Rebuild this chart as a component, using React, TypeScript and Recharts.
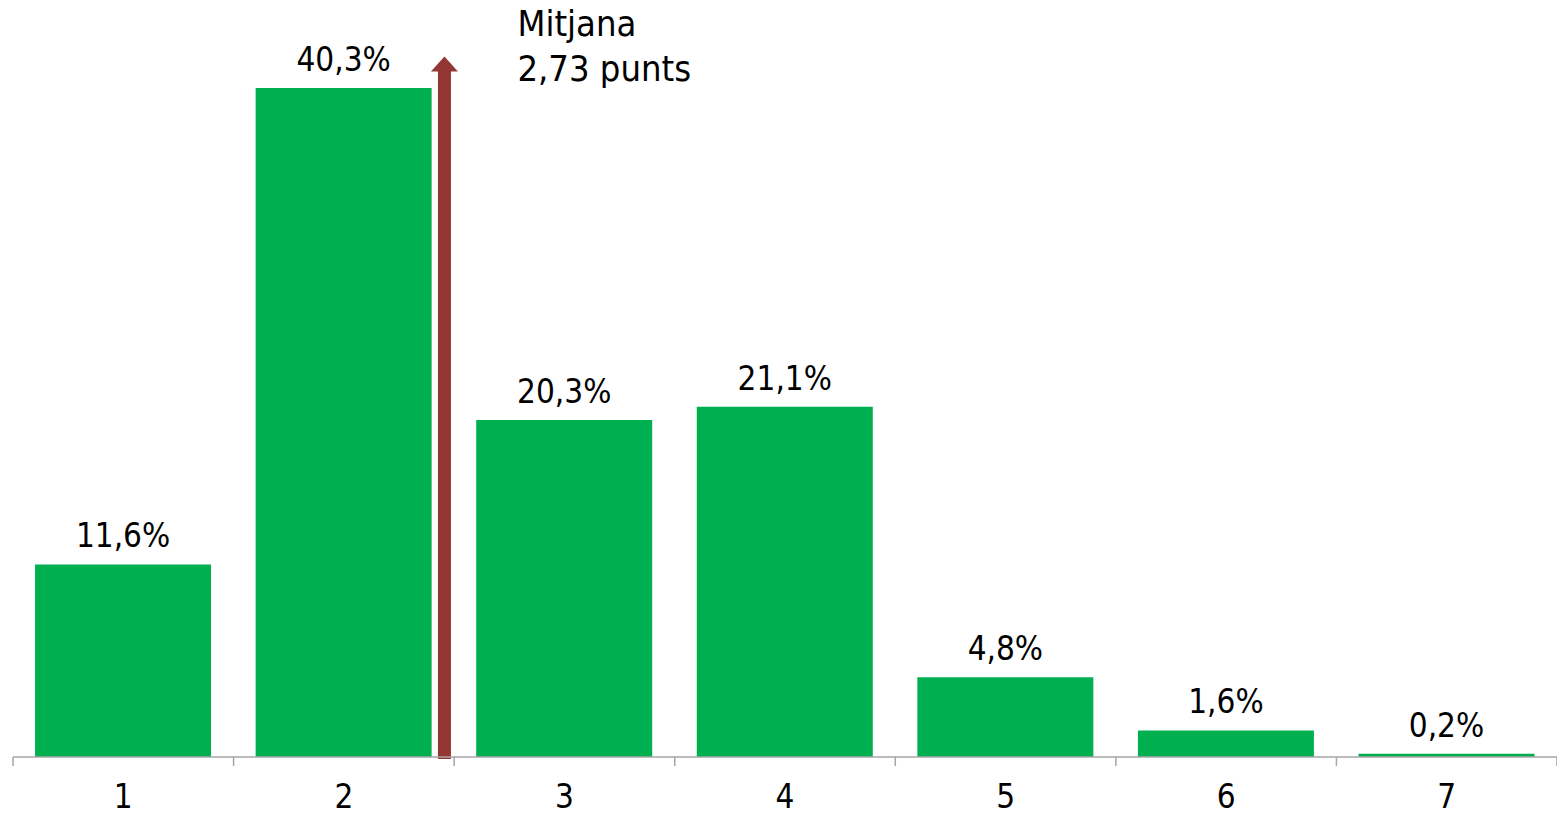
import React from 'react';
import { BarChart, Bar, XAxis, YAxis, LabelList, ReferenceLine } from 'recharts';

const categories = [1, 2, 3, 4, 5, 6, 7];
const percentages = [11.6, 40.3, 20.3, 21.1, 4.8, 1.6, 0.2];
const boundaryTicks = [0.5, 1.5, 2.5, 3.5, 4.5, 5.5, 6.5, 7.5];
const meanLabel = ['Mitjana', '2,73 punts'];
const arrowPosition = [2.456];
const arrowTop = [42.2];

const data = categories.map((c, i) => ({ cat: c, value: percentages[i] }));

const W = 1557;
const H = 815;
const MARGIN = { top: 10, right: 0, bottom: 0, left: 13 };
const HALF_BAND = (W - MARGIN.left - MARGIN.right) / categories.length / 2;
const FONT = '"DejaVu Sans Condensed", "DejaVu Sans", sans-serif';

const fmt = (v: number) => v.toFixed(1).replace('.', ',') + '%';

const BoundaryTick = (props: any) => {
  const { x, y, payload } = props;
  const v = payload.value;
  if (v >= 7.5) return null;
  const label = categories[Math.round(v + 0.5) - 1];
  return (
    <text x={x + HALF_BAND} y={y} dy={40} textAnchor="middle" fontFamily={FONT} fontSize={33} fill="#000">
      {label}
    </text>
  );
};

const Arrow = (props: any) => {
  const { x1, y1, x2, y2 } = props;
  const x = x1;
  const yBottom = Math.max(y1, y2) + 2;
  const yTop = Math.min(y1, y2);
  const shaftHalf = 6.5;
  const headHalf = 13.5;
  const headH = 15;
  const d = `M${x - shaftHalf},${yBottom} L${x - shaftHalf},${yTop + headH} L${x - headHalf},${yTop + headH} L${x},${yTop} L${x + headHalf},${yTop + headH} L${x + shaftHalf},${yTop + headH} L${x + shaftHalf},${yBottom} Z`;
  return (
    <g>
      <path d={d} fill="#943634" />
      <text x={x + 73} y={yTop - 20} fontFamily={FONT} fontSize={36} fill="#000">
        {meanLabel[0]}
      </text>
      <text x={x + 73} y={yTop + 25} fontFamily={FONT} fontSize={36} fill="#000">
        {meanLabel[1]}
      </text>
    </g>
  );
};

export default function App() {
  return (
    <div style={{ position: 'absolute', left: 0, top: 0, width: W, height: H, background: '#fff' }}>
      <BarChart width={W} height={H} data={data} margin={MARGIN} barCategoryGap="10%">
        <XAxis
          dataKey="cat"
          type="number"
          domain={[0.5, 7.5]}
          ticks={boundaryTicks}
          interval={0}
          height={58}
          axisLine={{ stroke: '#a6a6a6', strokeWidth: 1.5 }}
          tickLine={{ stroke: '#a6a6a6', strokeWidth: 1.5 }}
          tickSize={9}
          tickMargin={2}
          tick={<BoundaryTick />}
          allowDataOverflow
        />
        <YAxis hide domain={[0, 45]} type="number" />
        <Bar dataKey="value" fill="#00B050" isAnimationActive={false}>
          <LabelList
            dataKey="value"
            position="top"
            offset={17}
            formatter={(v: any) => fmt(Number(v))}
            style={{ fontFamily: FONT, fontSize: 33, fill: '#000' }}
          />
        </Bar>
        <ReferenceLine
          segment={[
            { x: arrowPosition[0], y: 0 },
            { x: arrowPosition[0], y: arrowTop[0] },
          ]}
          shape={<Arrow />}
          ifOverflow="visible"
        />
      </BarChart>
    </div>
  );
}
